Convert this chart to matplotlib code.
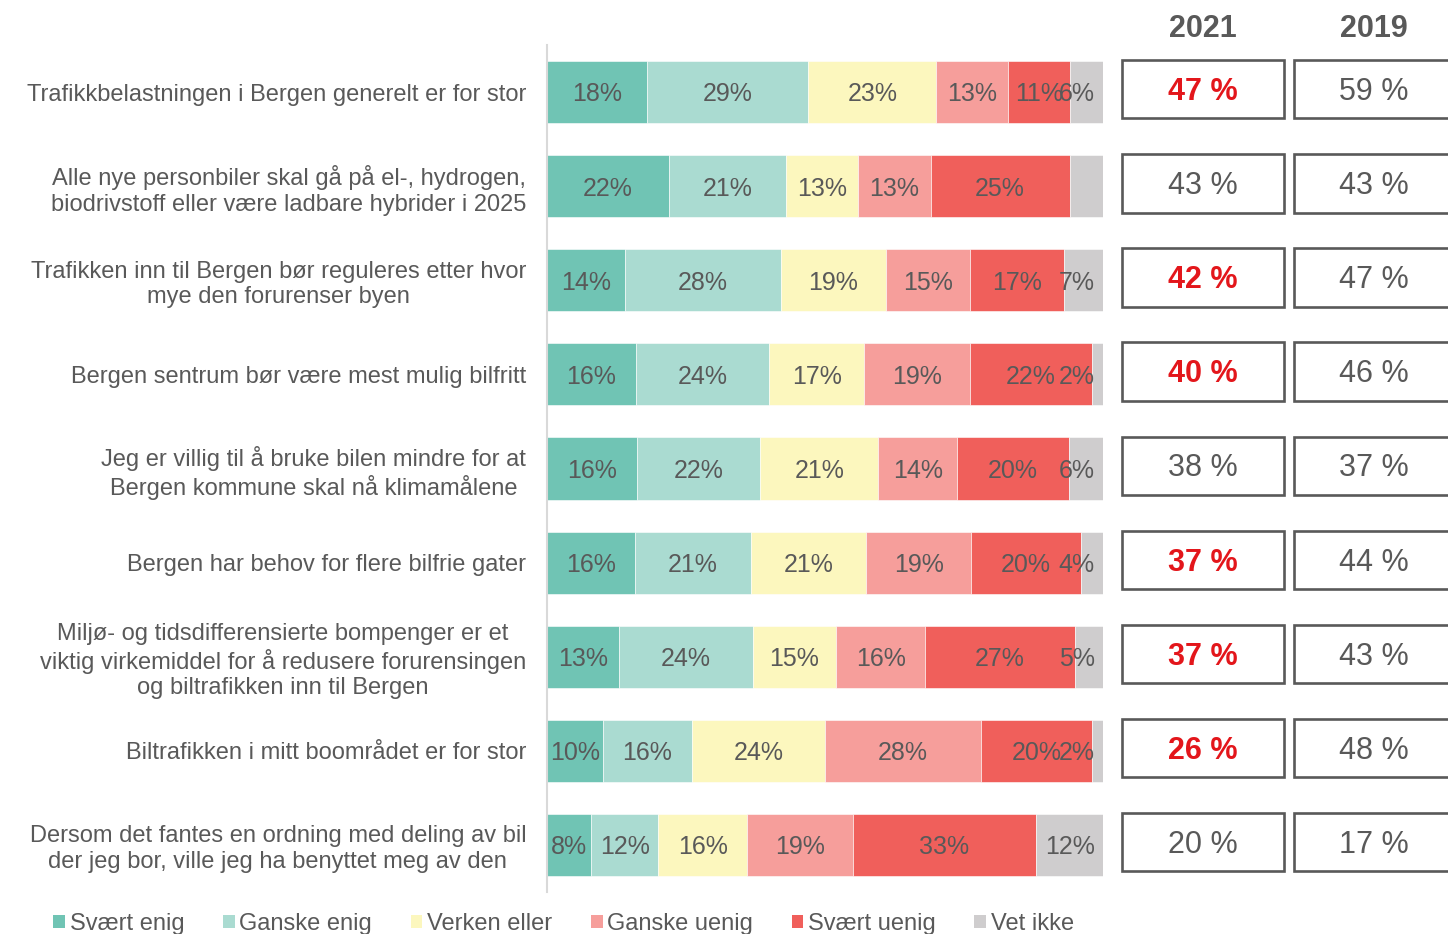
import matplotlib.pyplot as plt
from matplotlib.patches import Rectangle, Patch
import numpy as np

plt.rcParams['font.family'] = ['Liberation Sans', 'DejaVu Sans']

statements = [
    'Trafikkbelastningen i Bergen generelt er for stor',
    'Alle nye personbiler skal gå på el-, hydrogen,\nbiodrivstoff eller være ladbare hybrider i 2025',
    'Trafikken inn til Bergen bør reguleres etter hvor\nmye den forurenser byen',
    'Bergen sentrum bør være mest mulig bilfritt',
    'Jeg er villig til å bruke bilen mindre for at\nBergen kommune skal nå klimamålene',
    'Bergen har behov for flere bilfrie gater',
    'Miljø- og tidsdifferensierte bompenger er et\nviktig virkemiddel for å redusere forurensingen\nog biltrafikken inn til Bergen',
    'Biltrafikken i mitt boområdet er for stor',
    'Dersom det fantes en ordning med deling av bil\nder jeg bor, ville jeg ha benyttet meg av den',
]
categories = ['Svært enig', 'Ganske enig', 'Verken eller', 'Ganske uenig', 'Svært uenig', 'Vet ikke']
svaert_enig = [18, 22, 14, 16, 16, 16, 13, 10, 8]
ganske_enig = [29, 21, 28, 24, 22, 21, 24, 16, 12]
verken_eller = [23, 13, 19, 17, 21, 21, 15, 24, 16]
ganske_uenig = [13, 13, 15, 19, 14, 19, 16, 28, 19]
svaert_uenig = [11, 25, 17, 22, 20, 20, 27, 20, 33]
vet_ikke = [6, 6, 7, 2, 6, 4, 5, 2, 12]
hidden_labels = {(1, 5)}  # no label on 'Vet ikke' in row 2

years = ['2021', '2019']
enig_2021 = [47, 43, 42, 40, 38, 37, 37, 26, 20]
enig_2019 = [59, 43, 47, 46, 37, 44, 43, 48, 17]
highlight_2021 = [True, False, True, True, False, True, True, True, False]

colors = ['#70C4B4', '#AADBD1', '#FCF7BE', '#F69E9B', '#F05F5B', '#CFCDCE']
text_gray = '#595959'
red = '#E3161B'

W, H = 1448, 934
fig = plt.figure(figsize=(W / 100, H / 100), dpi=100)

# bar axes (pixel layout)
x0, x1, ytop, ybot = 547, 1103, 45, 892
ax = fig.add_axes([x0 / W, 1 - ybot / H, (x1 - x0) / W, (ybot - ytop) / H])

series = np.array([svaert_enig, ganske_enig, verken_eller, ganske_uenig, svaert_uenig, vet_ikke], dtype=float)
shares = series / series.sum(axis=0) * 100
n = len(statements)
y = np.arange(n)
left = np.zeros(n)
for k in range(len(categories)):
    ax.barh(y, shares[k], left=left, height=0.66, color=colors[k],
            edgecolor='white', linewidth=0.4, label=categories[k])
    for i in range(n):
        if (i, k) in hidden_labels:
            continue
        cx = min(left[i] + shares[k, i] / 2, 95.3)
        ax.text(cx, y[i] + 0.025, f'{int(series[k, i])}%', ha='center', va='center',
                fontsize=18, color=text_gray)
    left += shares[k]

ax.set_xlim(0, 100)
ax.set_ylim(n - 0.5, -0.5)
ax.set_xticks([])
ax.set_yticks(y)
ax.set_yticklabels(statements, fontsize=17, color=text_gray, multialignment='center')
ax.tick_params(axis='y', length=0, pad=15)
for s in ['top', 'right', 'bottom']:
    ax.spines[s].set_visible(False)
ax.spines['left'].set_color('#D9D9D9')
ax.spines['left'].set_linewidth(1.5)

# right side boxes
bx = fig.add_axes([1110 / W, 1 - ybot / H, (W - 1110) / W, (ybot - ytop) / H])
bx.set_xlim(1110, W)
bx.set_ylim(n - 0.5, -0.5)
bx.axis('off')
box_spans = [(1122, 1284), (1294, 1470)]
text_x = [1203, 1374]
for j, (vals, (bl, br)) in enumerate(zip([enig_2021, enig_2019], box_spans)):
    cx = text_x[j]
    bx.text(cx, -0.5 - 0.165, years[j], ha='center', va='center', fontsize=22,
            fontweight='bold', color=text_gray, clip_on=False)
    for i, v in enumerate(vals):
        bx.add_patch(Rectangle((bl, i - 0.34), br - bl, 0.62, facecolor='white',
                               edgecolor=text_gray, linewidth=1.9))
        hl = j == 0 and highlight_2021[i]
        bx.text(cx, i, f'{v} %', ha='center', va='center', fontsize=22,
                color=red if hl else text_gray, fontweight='bold' if hl else 'normal')

handles = [Patch(facecolor=c, edgecolor='none') for c in colors]
fig.legend(handles, categories, loc='center left', bbox_to_anchor=(32 / W, 1 - 924 / H),
           ncol=6, frameon=False, fontsize=17, handlelength=0.5, handleheight=0.5,
           handletextpad=0.2, columnspacing=1.63, labelcolor=text_gray)

fig.savefig('out.png', dpi=100)
